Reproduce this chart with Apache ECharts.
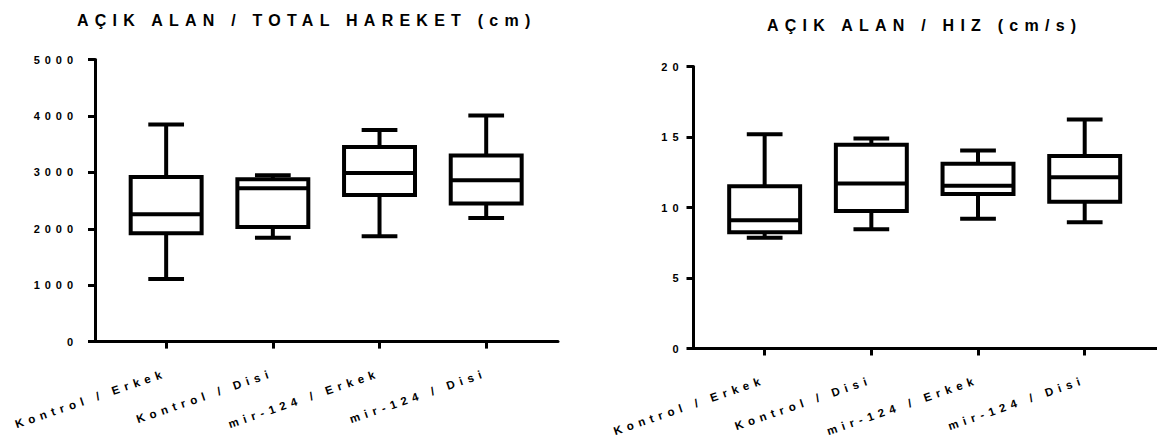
<!DOCTYPE html>
<html>
<head>
<meta charset="utf-8">
<script src="https://cdn.jsdelivr.net/npm/echarts@6/dist/echarts.min.js"></script>
<style>
  html, body { margin: 0; padding: 0; background: #fff; }
  #chart { width: 1157px; height: 437px; }
  /* wide tracking used on every label of the figure */
  #chart text { letter-spacing: 0.45em; }
  #chart text[style*="16px"] { letter-spacing: 0.39em; }
</style>
</head>
<body>
<div id="chart"></div>
<script>
// Groups shown on both panels
const categories = ['Kontrol / Erkek', 'Kontrol / Disi', 'mir-124 / Erkek', 'mir-124 / Disi'];

// Open field: total distance travelled (cm) — five-number summaries
const distMin    = [1110, 1840, 1870, 2190];
const distQ1     = [1920, 2030, 2600, 2450];
const distMedian = [2260, 2720, 2990, 2860];
const distQ3     = [2920, 2880, 3450, 3300];
const distMax    = [3850, 2950, 3750, 4010];

// Open field: speed (cm/s) — five-number summaries
const speedMin    = [7.85, 8.45, 9.2, 8.95];
const speedQ1     = [8.25, 9.75, 10.95, 10.4];
const speedMedian = [9.1, 11.7, 11.55, 12.15];
const speedQ3     = [11.5, 14.45, 13.1, 13.65];
const speedMax    = [15.2, 14.9, 14.05, 16.25];

// Value-axis ranges
const distAxis  = { min: 0, max: 5000, interval: 1000 };
const speedAxis = { min: 0, max: 20, interval: 5 };

const titles = ['AÇIK ALAN / TOTAL HAREKET (cm)', 'AÇIK ALAN / HIZ (cm/s)'];

function rows(mins, q1s, meds, q3s, maxs) {
  return categories.map((c, i) => [i, mins[i], q1s[i], meds[i], q3s[i], maxs[i]]);
}

const FONT = "'Liberation Sans', Arial, sans-serif";
const INK = '#000';
const BOX_FRAC = 0.665;   // box width as a share of the category step
const CAP_FRAC = 0.335;   // whisker cap width as a share of the category step
const STROKE = 4;

function renderBox(params, api) {
  const x = api.value(0);
  const lo = api.coord([x, api.value(1)]);
  const q1 = api.coord([x, api.value(2)]);
  const md = api.coord([x, api.value(3)]);
  const q3 = api.coord([x, api.value(4)]);
  const hi = api.coord([x, api.value(5)]);
  const step = api.size([1, 0])[0];
  const bw = step * BOX_FRAC;
  const cw = step * CAP_FRAC;
  const cx = md[0];
  const line = { stroke: INK, lineWidth: STROKE, lineCap: 'butt' };
  return {
    type: 'group',
    children: [
      { type: 'line', shape: { x1: cx, y1: lo[1], x2: cx, y2: q1[1] }, style: line },
      { type: 'line', shape: { x1: cx, y1: q3[1], x2: cx, y2: hi[1] }, style: line },
      { type: 'line', shape: { x1: cx - cw / 2, y1: lo[1], x2: cx + cw / 2, y2: lo[1] }, style: line },
      { type: 'line', shape: { x1: cx - cw / 2, y1: hi[1], x2: cx + cw / 2, y2: hi[1] }, style: line },
      { type: 'rect', shape: { x: cx - bw / 2, y: q3[1], width: bw, height: q1[1] - q3[1] },
        style: { fill: '#fff', stroke: INK, lineWidth: STROKE, lineJoin: 'miter' } },
      { type: 'line', shape: { x1: cx - bw / 2, y1: md[1], x2: cx + bw / 2, y2: md[1] }, style: line }
    ]
  };
}

function xAxisFor(gridIndex) {
  return {
    type: 'value', gridIndex,
    min: -0.667, max: 3.673,
    splitLine: { show: false },
    axisLine: { show: true, onZero: false, lineStyle: { color: INK, width: 3 } },
    axisTick: { show: true, customValues: [0, 1, 2, 3], length: 7, lineStyle: { color: INK, width: 3 } },
    axisLabel: {
      show: true, customValues: [0, 1, 2, 3], rotate: 19, margin: 31,
      formatter: v => categories[Math.round(v)] || '',
      color: INK, fontFamily: FONT, fontWeight: 'bold', fontSize: 11.5
    }
  };
}

function yAxisFor(gridIndex, range, margin) {
  return {
    type: 'value', gridIndex,
    min: range.min, max: range.max, interval: range.interval,
    splitLine: { show: false },
    axisLine: { show: true, onZero: false, lineStyle: { color: INK, width: 3 } },
    axisTick: { show: true, length: 7, lineStyle: { color: INK, width: 3 } },
    axisLabel: {
      margin, color: INK, fontFamily: FONT, fontWeight: 'bold', fontSize: 11,
      formatter: v => String(v)
    }
  };
}

const titleStyle = { color: INK, fontFamily: FONT, fontWeight: 'bold', fontSize: 16 };

const chart = echarts.init(document.getElementById('chart'), null, { renderer: 'svg' });
chart.setOption({
  animation: false,
  backgroundColor: '#fff',
  title: [
    { text: titles[0], left: 77, top: 12, padding: 0, textStyle: titleStyle },
    { text: titles[1], left: 767, top: 17, padding: 0, textStyle: titleStyle }
  ],
  grid: [
    { left: 95, top: 59.6, width: 463, height: 282 },
    { left: 693.5, top: 66.5, width: 463, height: 282 }
  ],
  xAxis: [xAxisFor(0), xAxisFor(1)],
  yAxis: [yAxisFor(0, distAxis, 17), yAxisFor(1, speedAxis, 10)],
  series: [
    { type: 'custom', xAxisIndex: 0, yAxisIndex: 0, renderItem: renderBox,
      encode: { x: 0, y: [1, 2, 3, 4, 5] },
      data: rows(distMin, distQ1, distMedian, distQ3, distMax) },
    { type: 'custom', xAxisIndex: 1, yAxisIndex: 1, renderItem: renderBox,
      encode: { x: 0, y: [1, 2, 3, 4, 5] },
      data: rows(speedMin, speedQ1, speedMedian, speedQ3, speedMax) }
  ]
});
</script>
</body>
</html>
